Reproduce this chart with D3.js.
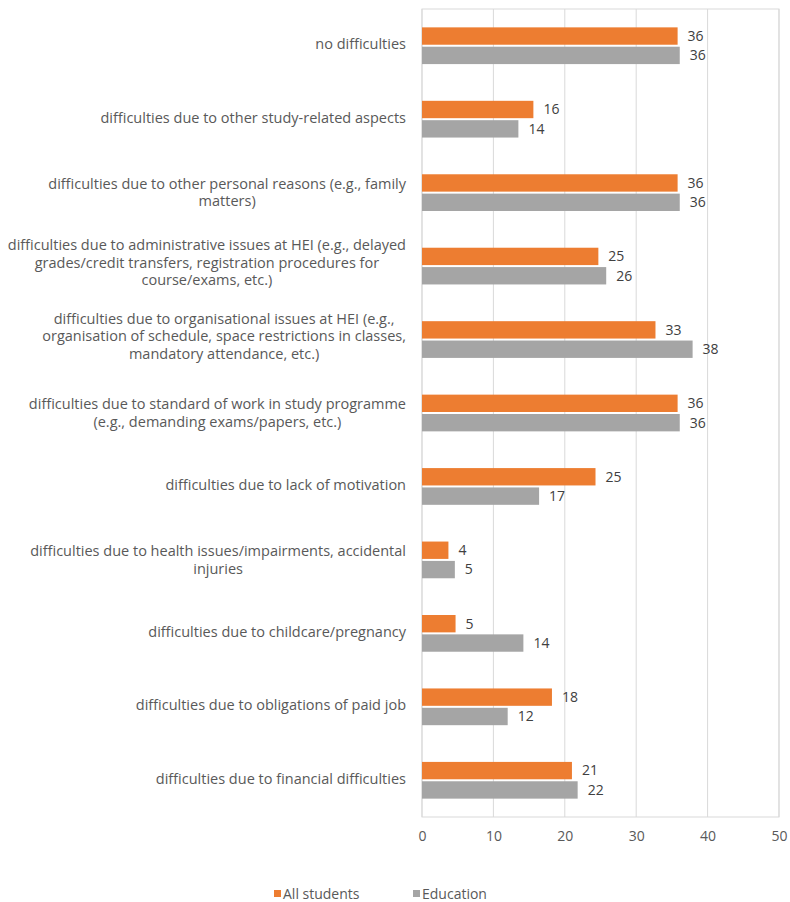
<!doctype html>
<html>
  <head>
    <script src="https://d3js.org/d3.v7.min.js"></script>
    <style>
      body { margin: 0; background: #fff; }
      text { font-family: "Open Sans", "Liberation Sans", Arial, sans-serif; fill: #595959; }
    </style>
  </head>
  <body>
    <div id="chart"></div>
    <script>
      // categories top to bottom, each entry = wrapped lines
      var categories = [
        ["no difficulties"],
        ["difficulties due to other study-related aspects"],
        ["difficulties due to other personal reasons (e.g., family", "matters)"],
        ["difficulties due to administrative issues at HEI (e.g., delayed", "grades/credit transfers, registration procedures for", "course/exams, etc.)"],
        ["difficulties due to organisational issues at HEI (e.g.,", "organisation of schedule, space restrictions in classes,", "mandatory attendance, etc.)"],
        ["difficulties due to standard of work in study programme", "(e.g., demanding exams/papers, etc.)"],
        ["difficulties due to lack of motivation"],
        ["difficulties due to health issues/impairments, accidental", "injuries"],
        ["difficulties due to childcare/pregnancy"],
        ["difficulties due to obligations of paid job"],
        ["difficulties due to financial difficulties"]
      ];
      var allStudents = [35.8, 15.6, 35.8, 24.7, 32.7, 35.8, 24.3, 3.7, 4.7, 18.2, 21.0];
      var education   = [36.1, 13.5, 36.1, 25.8, 37.9, 36.1, 16.4, 4.6, 14.2, 12.0, 21.8];
      var allLabels   = [36, 16, 36, 25, 33, 36, 25, 4, 5, 18, 21];
      var eduLabels   = [36, 14, 36, 26, 38, 36, 17, 5, 14, 12, 22];
      var seriesNames = ["All students", "Education"];
      var xTicks = [0, 10, 20, 30, 40, 50];

      var width = 790, height = 902;
      var plotL = 422, plotR = 779, plotT = 9, plotB = 817;
      var colors = ["#ED7D31", "#A5A5A5"];

      var svg = d3.select("#chart").append("svg")
        .attr("width", width).attr("height", height);

      var x = d3.scaleLinear().domain([0, 50]).range([plotL, plotR]);
      var y = d3.scaleBand().domain(d3.range(categories.length)).range([plotT, plotB]).paddingInner(0.5).paddingOuter(0.25);
      var barH = y.bandwidth() / 2 - 1;

      // plot border + gridlines
      svg.append("rect")
        .attr("x", plotL).attr("y", plotT)
        .attr("width", plotR - plotL).attr("height", plotB - plotT)
        .attr("fill", "none").attr("stroke", "#d9d9d9");
      svg.selectAll(".grid").data(xTicks).enter().append("line")
        .attr("x1", d => x(d)).attr("x2", d => x(d))
        .attr("y1", plotT).attr("y2", plotB)
        .attr("stroke", "#d9d9d9");

      // x axis labels
      var xAxis = svg.append("g").attr("transform", "translate(0," + (plotB + 14) + ")")
        .call(d3.axisBottom(x).tickValues(xTicks).tickSize(0).tickPadding(0));
      xAxis.select(".domain").remove();
      xAxis.selectAll("text").style("font-size", "14px").attr("fill", "#595959")
        .style("font-family", "Open Sans, Liberation Sans, Arial, sans-serif");

      // bars
      var series = [allStudents, education];
      var labels = [allLabels, eduLabels];
      series.forEach(function(vals, s) {
        svg.selectAll(".bar" + s).data(vals).enter().append("rect")
          .attr("x", x(0))
          .attr("y", (d, i) => y(i) + s * (barH + 2))
          .attr("width", d => x(d) - x(0))
          .attr("height", barH)
          .attr("fill", colors[s]);
        svg.selectAll(".lab" + s).data(vals).enter().append("text")
          .attr("x", d => x(d) + 10)
          .attr("y", (d, i) => y(i) + s * (barH + 2) + barH / 2)
          .attr("dy", "0.35em")
          .style("font-size", "14px")
          .style("fill", "#404040")
          .text((d, i) => labels[s][i]);
      });

      // category labels: each block right-aligned, lines centered in block
      var labelRight = 406, lineH = 17.5;
      categories.forEach(function(lines, i) {
        var g = svg.append("g");
        var cy = y(i) + y.bandwidth() / 2 - (lines.length > 2 ? 3.5 : lines.length === 1 ? 1.5 : 0);
        var t = g.selectAll("text").data(lines).enter().append("text")
          .attr("y", (d, j) => cy + (j - (lines.length - 1) / 2) * lineH)
          .attr("dy", "0.35em")
          .attr("text-anchor", "middle")
          .style("font-size", "14.5px")
          .text(d => d);
        var w = 0;
        t.each(function() { w = Math.max(w, this.getComputedTextLength()); });
        t.attr("x", labelRight - w / 2);
      });

      // legend
      var legX = [274, 413];
      seriesNames.forEach(function(name, s) {
        svg.append("rect").attr("x", legX[s]).attr("y", 890).attr("width", 7).attr("height", 7).attr("fill", colors[s]);
        svg.append("text").attr("x", legX[s] + 9).attr("y", 894).attr("dy", "0.35em")
          .style("font-size", "14px").text(name);
      });
    </script>
  </body>
</html>
